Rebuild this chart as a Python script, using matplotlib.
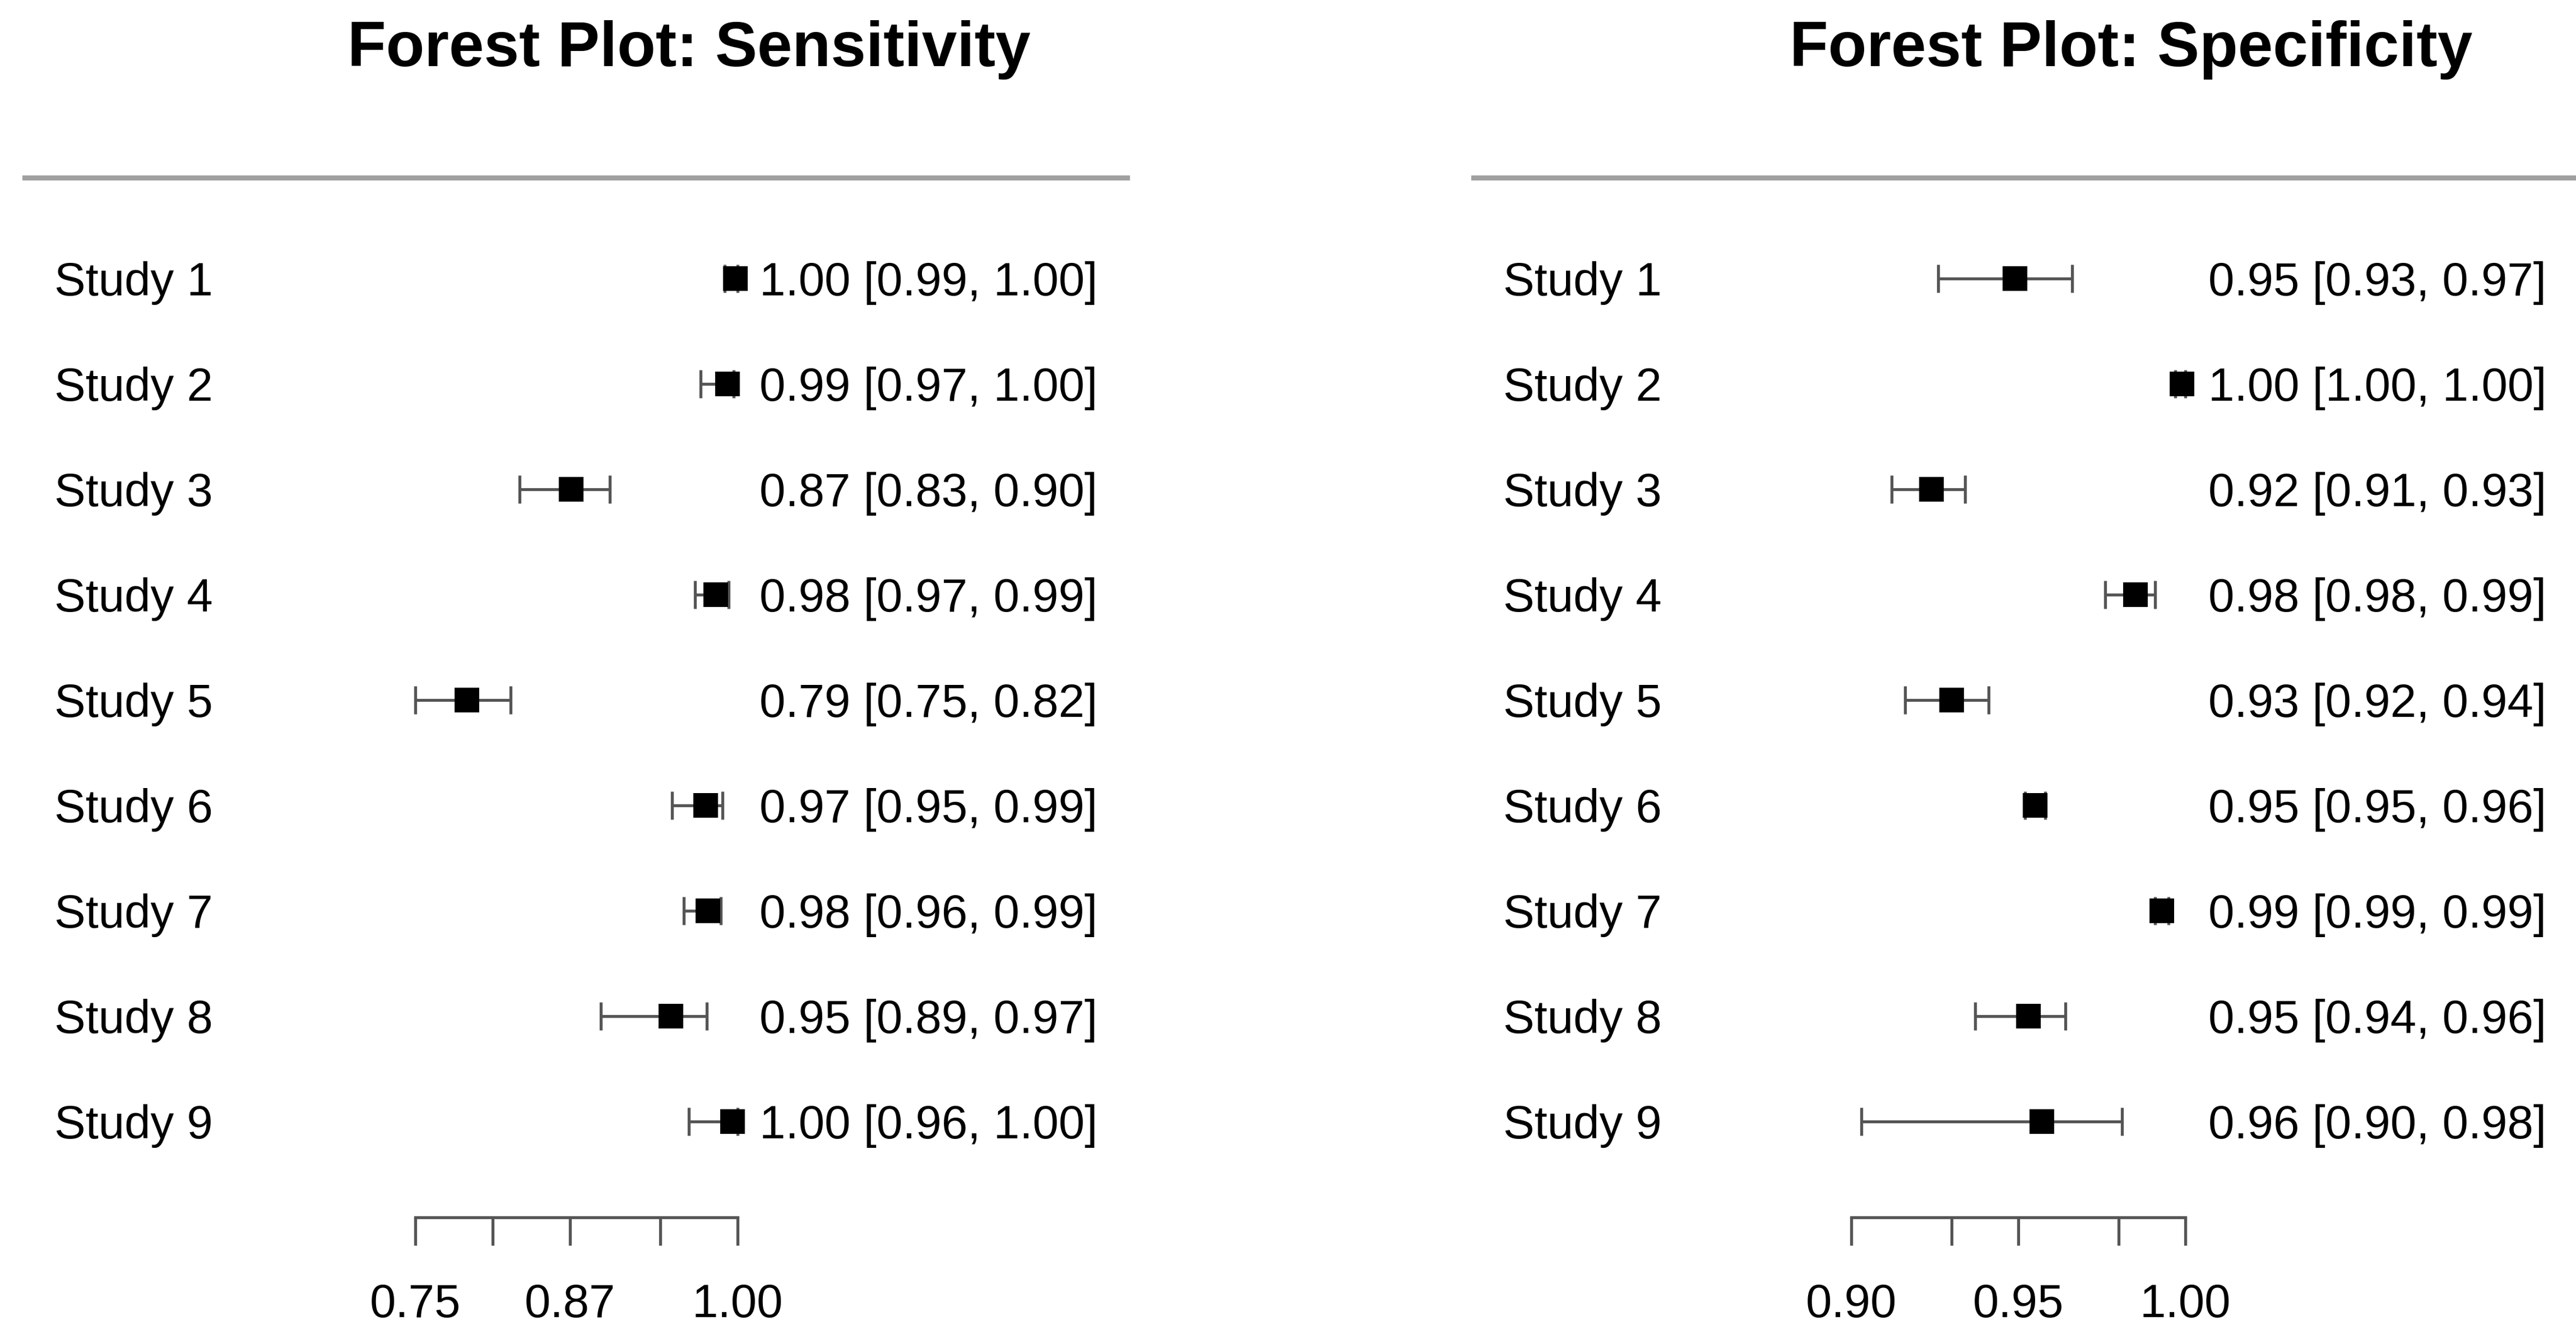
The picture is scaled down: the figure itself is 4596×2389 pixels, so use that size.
import matplotlib
matplotlib.use('Agg')
import matplotlib.pyplot as plt
from matplotlib.lines import Line2D

W, H, DPI = 4596, 2389, 100
plt.rcParams['font.family'] = ['Liberation Sans', 'DejaVu Sans']

# ---------------- data ----------------
studies = ['Study 1', 'Study 2', 'Study 3', 'Study 4', 'Study 5',
           'Study 6', 'Study 7', 'Study 8', 'Study 9']

sens_est = [0.998, 0.992, 0.871, 0.983, 0.790, 0.975, 0.977, 0.948, 0.996]
sens_lo = [0.990, 0.971, 0.831, 0.967, 0.750, 0.949, 0.958, 0.894, 0.962]
sens_hi = [1.000, 0.997, 0.901, 0.993, 0.824, 0.988, 0.987, 0.976, 1.000]
sens_text = ['1.00 [0.99, 1.00]', '0.99 [0.97, 1.00]', '0.87 [0.83, 0.90]',
             '0.98 [0.97, 0.99]', '0.79 [0.75, 0.82]', '0.97 [0.95, 0.99]',
             '0.98 [0.96, 0.99]', '0.95 [0.89, 0.97]', '1.00 [0.96, 1.00]']
sens_ticks = [0.75, 0.81, 0.87, 0.94, 1.00]
sens_ticklabels = ['0.75', '', '0.87', '', '1.00']

spec_est = [0.949, 0.999, 0.924, 0.985, 0.930, 0.955, 0.993, 0.953, 0.957]
spec_lo = [0.926, 0.997, 0.912, 0.976, 0.916, 0.952, 0.991, 0.937, 0.903]
spec_hi = [0.966, 1.000, 0.934, 0.991, 0.941, 0.958, 0.995, 0.964, 0.981]
spec_text = ['0.95 [0.93, 0.97]', '1.00 [1.00, 1.00]', '0.92 [0.91, 0.93]',
             '0.98 [0.98, 0.99]', '0.93 [0.92, 0.94]', '0.95 [0.95, 0.96]',
             '0.99 [0.99, 0.99]', '0.95 [0.94, 0.96]', '0.96 [0.90, 0.98]']
spec_ticks = [0.90, 0.93, 0.95, 0.98, 1.00]
spec_ticklabels = ['0.90', '', '0.95', '', '1.00']

# ---------------- layout ----------------
ROW0, ROWSTEP = 497, 188          # pixel y of first row, row spacing
FS = 60
GRAY = '#555555'


def yidx(p):
    return (p - ROW0) / ROWSTEP


fig = plt.figure(figsize=(W / DPI, H / DPI), dpi=DPI)


def panel(x0px, x1px, anchors, est, lo, hi, texts, ticks, ticklabels,
          label_px, value_px, title, title_px, line_px):
    ax = fig.add_axes([x0px / W, 0, (x1px - x0px) / W, 1])
    (pa, va), (pb, vb) = anchors
    sc = (vb - va) / (pb - pa)

    def xv(p):
        return va + (p - pa) * sc

    ax.set_xlim(xv(x0px), xv(x1px))
    ax.set_ylim(yidx(H), yidx(0))
    ax.patch.set_alpha(0)

    idx = list(range(len(studies)))
    xerr = [[e - l for e, l in zip(est, lo)], [h - e for e, h in zip(est, hi)]]
    ax.errorbar(est, idx, xerr=xerr, fmt='none', ecolor=GRAY,
                elinewidth=3.8, capsize=18, capthick=3.8, zorder=2)
    ax.plot(est, idx, 's', color='black', ms=31, mew=0, zorder=3)

    base = 30 / ROWSTEP
    for i, (s, t) in enumerate(zip(studies, texts)):
        ax.text(xv(label_px), i + base, s, ha='left', va='baseline',
                fontsize=FS, color='black')
        ax.text(xv(value_px), i + base, t, ha='right', va='baseline',
                fontsize=FS, color='black')

    for side in ['left', 'right', 'top']:
        ax.spines[side].set_visible(False)
    ax.spines['bottom'].set_position(('data', yidx(2172)))
    ax.spines['bottom'].set_bounds(ticks[0], ticks[-1])
    ax.spines['bottom'].set_linewidth(3.8)
    ax.spines['bottom'].set_color(GRAY)
    ax.set_yticks([])
    ax.set_xticks(ticks)
    ax.set_xticklabels(ticklabels)
    ax.tick_params(axis='x', direction='out', length=36, width=3.8,
                   color=GRAY, labelsize=FS, pad=48, labelcolor='black')

    fig.text(title_px / W, 1 - 118 / H, title, ha='center', va='baseline',
             fontsize=81, fontweight='bold', color='black')
    fig.add_artist(Line2D([line_px[0] / W, line_px[1] / W],
                          [1 - 317 / H, 1 - 317 / H],
                          color='#a0a0a0', lw=6.5))
    return ax


panel(0, 2298, ((740.6, 0.75), (1316.3, 1.00)),
      sens_est, sens_lo, sens_hi, sens_text, sens_ticks, sens_ticklabels,
      97, 1958, 'Forest Plot: Sensitivity', 1229.5, (44, 2011))

panel(2298, 4596, ((3303.3, 0.90), (3899.1, 1.00)),
      spec_est, spec_lo, spec_hi, spec_text, spec_ticks, spec_ticklabels,
      2682, 4543, 'Forest Plot: Specificity', 3802.5, (2629, 4596))

fig.savefig('out.png', dpi=DPI, facecolor='white')
